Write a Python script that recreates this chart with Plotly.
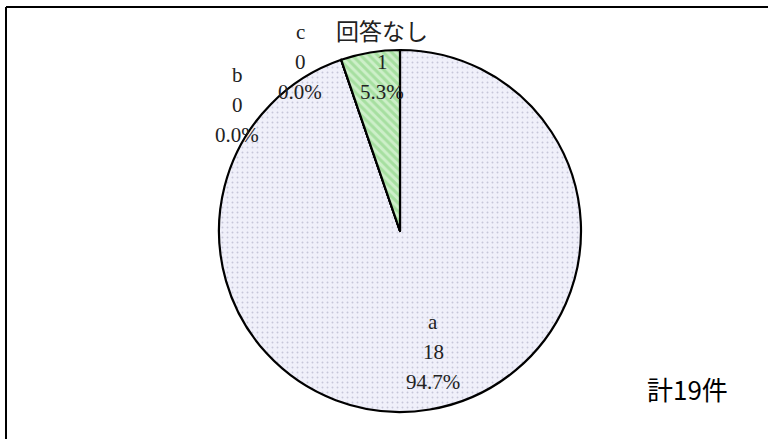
import plotly.graph_objects as go

labels = ["a", "b", "c", "回答なし"]
values = [18, 0, 0, 1]
total_label = "計19件"

bg_colors = ["#F0F0FA", "#F0F0FA", "#F0F0FA", "#CDEFC9"]
fg_colors = ["#9C9CB8", "#9C9CB8", "#9C9CB8", "#7FD077"]
shapes_pat = [".", ".", ".", "\\"]

total = sum(values)
pcts = [v / total * 100 for v in values]

W, H = 768, 439
fig = go.Figure()
fig.add_trace(go.Pie(
    labels=labels, values=values, sort=False, direction="clockwise", rotation=0,
    textinfo="none", hoverinfo="skip", showlegend=False,
    domain=dict(x=[219 / W, 581 / W], y=[1 - 412 / H, 1 - 50 / H]),
    marker=dict(
        colors=bg_colors,
        line=dict(color="black", width=2.2),
        pattern=dict(shape=shapes_pat, bgcolor=bg_colors, fgcolor=fg_colors,
                     size=[5, 5, 5, 6], solidity=[0.12, 0.12, 0.12, 0.5],
                     fillmode="overlay"),
    ),
))

# label anchor positions (pixel centers of the first line) per category
label_pos = {"a": (433, 322), "b": (237, 75), "c": (300, 32), "回答なし": (382, 32)}
serif = "Liberation Serif, Noto Sans CJK JP"
for lab, v, p in zip(labels, values, pcts):
    x, y = label_pos[lab]
    lines = [lab, f"{v}", f"{p:.1f}%"]
    for i, t in enumerate(lines):
        size = 23 if not t.isascii() else 21
        fig.add_annotation(
            x=x / W, y=1 - (y + 30 * i) / H, xref="paper", yref="paper",
            text=t, showarrow=False, xanchor="center", yanchor="middle",
            font=dict(family=serif, size=size, color="#222"),
        )

fig.add_annotation(
    x=687 / W, y=1 - 388 / H, xref="paper", yref="paper", text=total_label,
    showarrow=False, xanchor="center", yanchor="middle",
    font=dict(family="Noto Sans CJK JP", size=26, color="black"),
)

# chart frame: only top and left edges are inside the picture
fig.add_shape(type="line", xref="paper", yref="paper",
              x0=6 / W, x1=1.05, y0=1 - 7 / H, y1=1 - 7 / H,
              line=dict(color="black", width=2))
fig.add_shape(type="line", xref="paper", yref="paper",
              x0=6 / W, x1=6 / W, y0=-0.05, y1=1 - 7 / H,
              line=dict(color="black", width=2))

fig.update_layout(width=W, height=H, margin=dict(l=0, r=0, t=0, b=0),
                  paper_bgcolor="white", plot_bgcolor="white")
fig.write_html("out.html", config={"displayModeBar": False},
               post_script="document.documentElement.style.overflow='hidden';document.body.style.margin='0';document.body.style.overflow='hidden';")
